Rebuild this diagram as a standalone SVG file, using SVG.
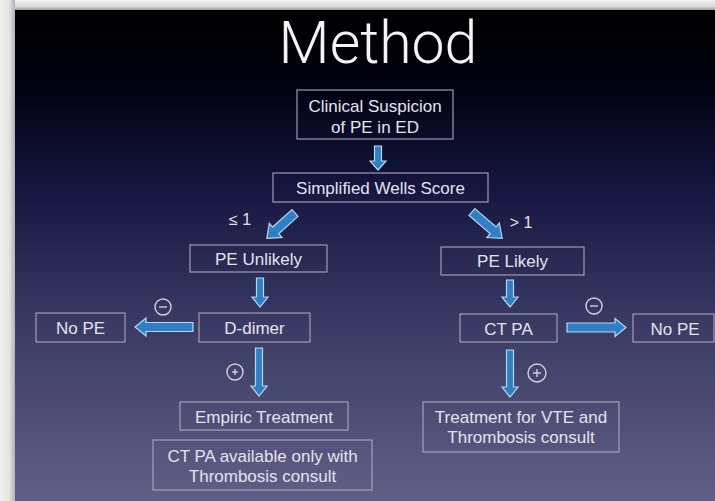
<svg xmlns="http://www.w3.org/2000/svg" width="715" height="501" viewBox="0 0 715 501">
<defs>
<linearGradient id="bg" x1="0" y1="0" x2="0" y2="1">
<stop offset="0" stop-color="#000000"/>
<stop offset="0.16" stop-color="#020212"/>
<stop offset="0.36" stop-color="#15153f"/>
<stop offset="0.62" stop-color="#383862"/>
<stop offset="1" stop-color="#625f87"/>
</linearGradient>
<linearGradient id="topedge" x1="0" y1="0" x2="0" y2="1">
<stop offset="0" stop-color="#f2f2f2"/>
<stop offset="0.6" stop-color="#d8d8d8"/>
<stop offset="1" stop-color="#8a8a8a"/>
</linearGradient>
<linearGradient id="leftedge" x1="0" y1="0" x2="1" y2="0">
<stop offset="0" stop-color="#f0f0ec"/>
<stop offset="0.6" stop-color="#e6e6e2"/>
<stop offset="1" stop-color="#b0b0b8"/>
</linearGradient>
<style>
.box{fill:none;stroke:#a8a8bc;stroke-width:1.1}
.t{font-family:"Liberation Sans",Arial,sans-serif;font-size:17px;fill:#e4e4ec;text-anchor:middle}
.lbl{font-family:"Liberation Sans",Arial,sans-serif;font-size:16px;fill:#e4e4ec;text-anchor:middle}
.title{font-family:Roboto,"Liberation Sans",sans-serif;font-weight:300;font-size:59px;fill:#f4f4f4;text-anchor:middle}
.arr{fill:#2f7fc6;stroke:#b8d8f0;stroke-width:1.2;stroke-linejoin:miter}
.sym{fill:none;stroke:#d0d0dc;stroke-width:1.4}
</style>
</defs>
<rect x="0" y="0" width="715" height="501" fill="#eeeeea"/>
<rect x="0" y="0" width="715" height="11" fill="url(#topedge)"/>
<rect x="0" y="0" width="15" height="501" fill="url(#leftedge)"/>
<rect x="15" y="10" width="700" height="491" fill="url(#bg)"/>

<text class="title" x="378" y="63">Method</text>

<g id="connectors">
<polygon class="arr" points="374.5,146 381.5,146 381.5,161 386,161 378,170 370,161 374.5,161"/>
<polygon class="arr" transform="translate(295,213) rotate(138)" points="0,-4.5 26,-4.5 26,-9.5 38,0 26,9.5 26,4.5 0,4.5"/>
<polygon class="arr" transform="translate(472,212) rotate(41)" points="0,-4.5 28,-4.5 28,-9.5 40,0 28,9.5 28,4.5 0,4.5"/>
<polygon class="arr" points="256.5,278 263.5,278 263.5,297 268,297 260,307 252,297 256.5,297"/>
<polygon class="arr" points="506.5,280 513.5,280 513.5,297 518,297 510,307 502,297 506.5,297"/>
<polygon class="arr" points="193,322.5 146,322.5 146,318 135,327 146,336 146,331.5 193,331.5"/>
<polygon class="arr" points="567,323 615,323 615,318.5 626,327.5 615,336.5 615,332 567,332"/>
<polygon class="arr" points="255.5,348 262.5,348 262.5,386 267,386 259,396 251,386 255.5,386"/>
<polygon class="arr" points="506.5,350 513.5,350 513.5,387 518,387 510,397 502,387 506.5,387"/>
<text class="lbl" x="240" y="225">≤ 1</text>
<text class="lbl" x="521" y="228">&gt; 1</text>
<g id="neg-left"><circle class="sym" cx="163" cy="307" r="8"/><line class="sym" x1="159" y1="307" x2="167" y2="307"/></g>
<g id="neg-right"><circle class="sym" cx="594" cy="306" r="8"/><line class="sym" x1="590" y1="306" x2="598" y2="306"/></g>
<g id="pos-left"><circle class="sym" cx="235" cy="372" r="8"/><line class="sym" x1="232" y1="372" x2="238" y2="372"/><line class="sym" x1="235" y1="369" x2="235" y2="375"/></g>
<g id="pos-right"><circle class="sym" cx="537" cy="373" r="9"/><line class="sym" x1="533" y1="373" x2="541" y2="373"/><line class="sym" x1="537" y1="369" x2="537" y2="377"/></g>
</g>

<g id="clinical"><rect class="box" x="297" y="90" width="156" height="49"/><text class="t" x="375" y="112">Clinical Suspicion</text><text class="t" x="375" y="133">of PE in ED</text></g>
<g id="wells"><rect class="box" x="273" y="173" width="215" height="29"/><text class="t" x="380.5" y="194">Simplified Wells Score</text></g>
<g id="unlikely"><rect class="box" x="190" y="245" width="137" height="27"/><text class="t" x="258.5" y="265">PE Unlikely</text></g>
<g id="likely"><rect class="box" x="441" y="247" width="143" height="28"/><text class="t" x="512.5" y="267">PE Likely</text></g>
<g id="ddimer"><rect class="box" x="199" y="313" width="111" height="29"/><text class="t" x="254.5" y="334">D-dimer</text></g>
<g id="nope-left"><rect class="box" x="36" y="313" width="89" height="29"/><text class="t" x="80.5" y="334">No PE</text></g>
<g id="ctpa"><rect class="box" x="460" y="314" width="97" height="28"/><text class="t" x="508.5" y="335">CT PA</text></g>
<g id="nope-right"><rect class="box" x="633" y="314" width="81" height="28"/><text class="t" x="675" y="335">No PE</text></g>
<g id="empiric"><rect class="box" x="180" y="402" width="168" height="28"/><text class="t" x="264" y="423">Empiric Treatment</text></g>
<g id="ctpa-consult"><rect class="box" x="153" y="440" width="219" height="50"/><text class="t" x="262.5" y="462">CT PA available only with</text><text class="t" x="262.5" y="482">Thrombosis consult</text></g>
<g id="treatment"><rect class="box" x="423" y="402" width="196" height="50"/><text class="t" x="521" y="423">Treatment for VTE and</text><text class="t" x="521" y="443">Thrombosis consult</text></g>
</svg>
